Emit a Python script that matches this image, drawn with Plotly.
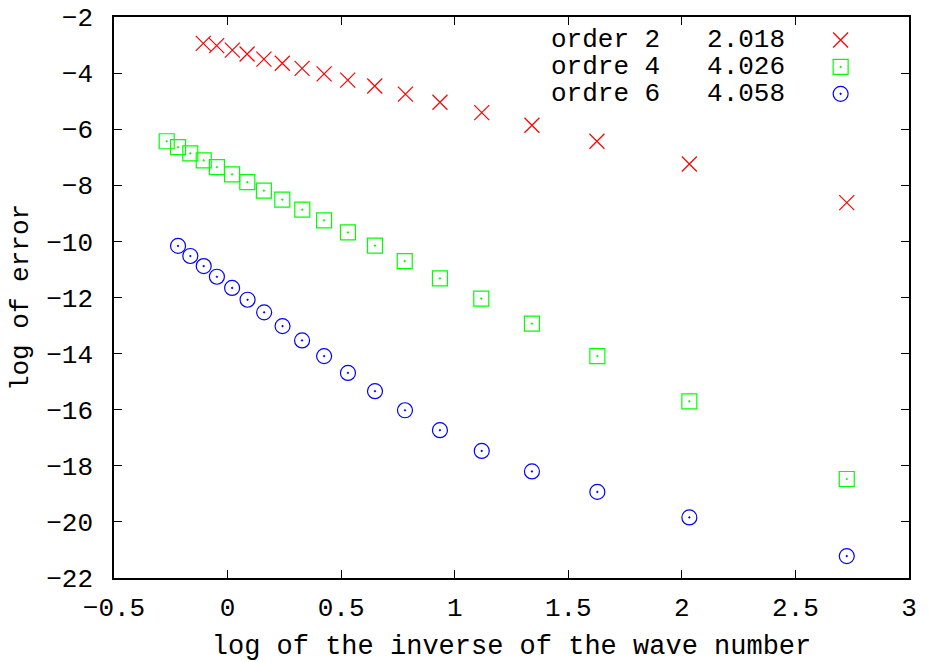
import plotly.graph_objects as go

# ---- data ----
x_green = [-0.268, -0.218, -0.164, -0.105, -0.047, 0.020, 0.087, 0.160, 0.241, 0.329,
           0.425, 0.530, 0.649, 0.780, 0.935, 1.117, 1.340, 1.628, 2.033, 2.726]
y_green = [-6.43, -6.64, -6.86, -7.11, -7.35, -7.61, -7.89, -8.19, -8.51, -8.87,
           -9.25, -9.68, -10.15, -10.70, -11.32, -12.04, -12.93, -14.09, -15.70, -18.47]

x_red = [-0.107, -0.048, 0.021, 0.086, 0.160, 0.241, 0.328, 0.425, 0.529, 0.648,
         0.783, 0.935, 1.119, 1.340, 1.626, 2.033, 2.726]
y_red = [-2.94, -3.02, -3.18, -3.32, -3.50, -3.65, -3.83, -4.03, -4.25, -4.46,
         -4.75, -5.04, -5.41, -5.86, -6.43, -7.24, -8.62]

x_blue = [-0.218, -0.164, -0.105, -0.047, 0.020, 0.088, 0.161, 0.242, 0.328, 0.425,
          0.530, 0.649, 0.781, 0.935, 1.119, 1.340, 1.628, 2.033, 2.726]
y_blue = [-10.16, -10.52, -10.88, -11.26, -11.66, -12.08, -12.53, -13.02, -13.53, -14.09,
          -14.69, -15.34, -16.02, -16.73, -17.47, -18.20, -18.93, -19.84, -21.22]

series_names = ["order 2", "ordre 4", "ordre 6"]
series_slopes = ["2.018", "4.026", "4.058"]
series_colors = ["#ff0000", "#00ff00", "#0000ff"]
series_symbols = ["x-thin-open", "square-open-dot", "circle-open-dot"]

x_ticks = [-0.5, 0, 0.5, 1, 1.5, 2, 2.5, 3]
y_ticks = [-22, -20, -18, -16, -14, -12, -10, -8, -6, -4, -2]

FONT = "Liberation Mono"
FS = 26
NB = "\u00a0"


def fmt(v):
    return ("%g" % v).replace("-", "\u2212")


fig = go.Figure()
data = [(x_red, y_red), (x_green, y_green), (x_blue, y_blue)]
for (xs, ys), c, s in zip(data, series_colors, series_symbols):
    fig.add_trace(go.Scatter(
        x=xs, y=ys, mode="markers", showlegend=False,
        marker=dict(symbol=s, size=15, color=c, line=dict(color=c, width=1.2)),
    ))

# legend keys (gnuplot-style: text left, symbol right)
leg_rows = [0.959, 0.911, 0.863]
for i in range(3):
    fig.add_trace(go.Scatter(
        x=[0.914], y=[leg_rows[i]], xaxis="x2", yaxis="y2", mode="markers",
        showlegend=False,
        marker=dict(symbol=series_symbols[i], size=15, color=series_colors[i],
                    line=dict(color=series_colors[i], width=1.2)),
    ))
    fig.add_annotation(x=0.547, y=leg_rows[i], xref="paper", yref="paper",
                       text=series_names[i] + NB * 3 + series_slopes[i],
                       showarrow=False, xanchor="left", yanchor="middle",
                       font=dict(family=FONT, size=FS, color="#000"))

axis_common = dict(
    showgrid=False, zeroline=False, showline=True, linecolor="#000", linewidth=1.5,
    mirror="allticks", ticks="inside", ticklen=8, tickwidth=1.2, tickcolor="#000",
    tickfont=dict(family=FONT, size=FS, color="#000"), automargin=False,
)

fig.update_layout(
    width=929, height=662,
    margin=dict(l=114, r=20, t=17, b=84),
    paper_bgcolor="white", plot_bgcolor="white",
    xaxis=dict(range=[-0.5, 3], tickvals=x_ticks, ticktext=[fmt(v) for v in x_ticks],
               title=dict(text="log of the inverse of the wave number",
                          font=dict(family=FONT, size=27, color="#000"), standoff=14),
               ticklabelstandoff=5, **axis_common),
    yaxis=dict(range=[-22, -2], tickvals=y_ticks, ticktext=[fmt(v) for v in y_ticks],
               title=dict(text="log of error", font=dict(family=FONT, size=FS, color="#000"),
                          standoff=10),
               ticklabelstandoff=14, **axis_common),
    xaxis2=dict(range=[0, 1], overlaying="x", visible=False),
    yaxis2=dict(range=[0, 1], overlaying="y", visible=False),
)

fig.write_html("out.html")
